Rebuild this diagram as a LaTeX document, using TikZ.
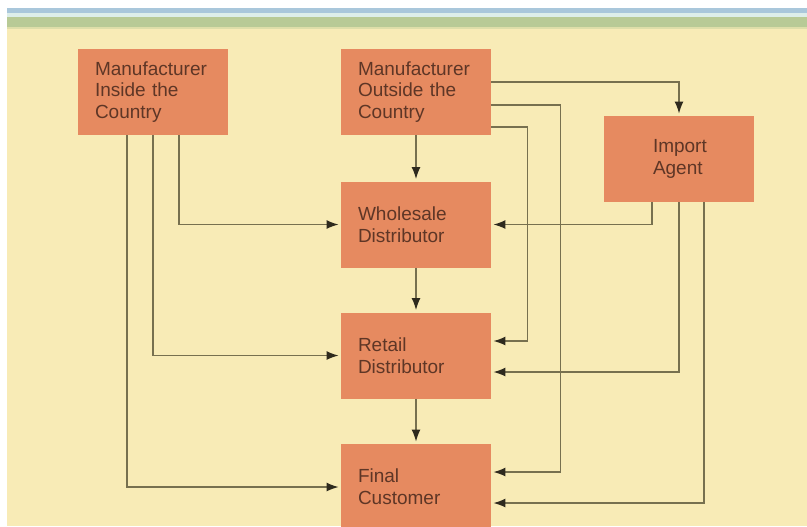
\documentclass[tikz,border=0pt]{standalone}
\usepackage{fontspec}
\setmainfont{Liberation Sans}
\usetikzlibrary{positioning}
\usetikzlibrary{arrows.meta}
\definecolor{cream}{HTML}{F8EBB6}
\definecolor{boxorange}{HTML}{E68A60}
\definecolor{boxtext}{HTML}{5E3626}
\definecolor{linecol}{HTML}{77704F}
\definecolor{tipcol}{HTML}{2E2A1E}
\definecolor{bandblue}{HTML}{A9C7DB}
\definecolor{bandlight}{HTML}{DDEEEA}
\definecolor{bandgreen}{HTML}{B8CA96}
\tikzset{stage/.style = {rectangle, fill=boxorange, text=boxtext,
                         minimum width=75pt, minimum height=43pt,
                         text width=58pt, inner xsep=8.5pt, inner ysep=0pt,
                         align=left, font=\fontsize{9.5}{10.9}\selectfont}}
\tikzset{agentbox/.style = {stage, text width=26pt, inner xsep=24.5pt}}
\tikzset{conn/.style = {draw=linecol, line width=0.75pt, shorten >=1pt,
                        -{Latex[length=6pt,width=4.5pt,color=tipcol]}}}

\begin{document}
\begin{tikzpicture}[x=0.5pt,y=-0.5pt]
          % page and header bands
          \fill[white] (0,0) rectangle (807,526);
          \fill[cream] (7,27) rectangle (807,526);
          \fill[bandblue] (7,8) rectangle (807,12.5);
          \fill[bandlight] (7,12.5) rectangle (807,17);
          \fill[bandgreen] (7,17) rectangle (807,27);
          \fill[cream!60!bandgreen] (7,27) rectangle (807,29);
          \useasboundingbox (0,0) rectangle (807,526);
          % boxes
          \node[stage] (inside) at (153,92) {Manufacturer\\Inside the\\Country};
          \node[stage] (outside) at (416,92) {Manufacturer\\Outside the\\Country};
          \node[agentbox] (agent) at (679,159) {Import\\Agent};
          \node[stage] (wholesale) at (416,224.5) {Wholesale\\Distributor};
          \node[stage] (retail) at (416,355.5) {Retail\\Distributor};
          \node[stage] (final) at (416,487) {Final\\Customer};
          % straight down the middle
          \draw[conn] (outside) -- (wholesale);
          \draw[conn] (wholesale) -- (retail);
          \draw[conn] (retail) -- (final);
          % from the inside manufacturer
          \draw[conn] ([xshift=13pt]inside.south) |- (wholesale.west);
          \draw[conn] (inside.south) |- (retail.west);
          \draw[conn] ([xshift=-13pt]inside.south) |- (final.west);
          % from the outside manufacturer
          \draw[conn] ([yshift=5pt]outside.east) -| (agent.north);
          \draw[conn] ([yshift=-6.5pt]outside.east)
            -| ([xshift=34.5pt,yshift=7.5pt]final.east)
            -- ([yshift=7.5pt]final.east);
          \draw[conn] ([yshift=-17.5pt]outside.east)
            -| ([xshift=18pt,yshift=7.25pt]retail.east)
            -- ([yshift=7.25pt]retail.east);
          % from the import agent
          \draw[conn] ([xshift=-13.5pt]agent.south) |- (wholesale.east);
          \draw[conn] (agent.south) |- ([yshift=-8.25pt]retail.east);
          \draw[conn] ([xshift=12.5pt]agent.south) |- ([yshift=-8pt]final.east);
        \end{tikzpicture}
\end{document}
